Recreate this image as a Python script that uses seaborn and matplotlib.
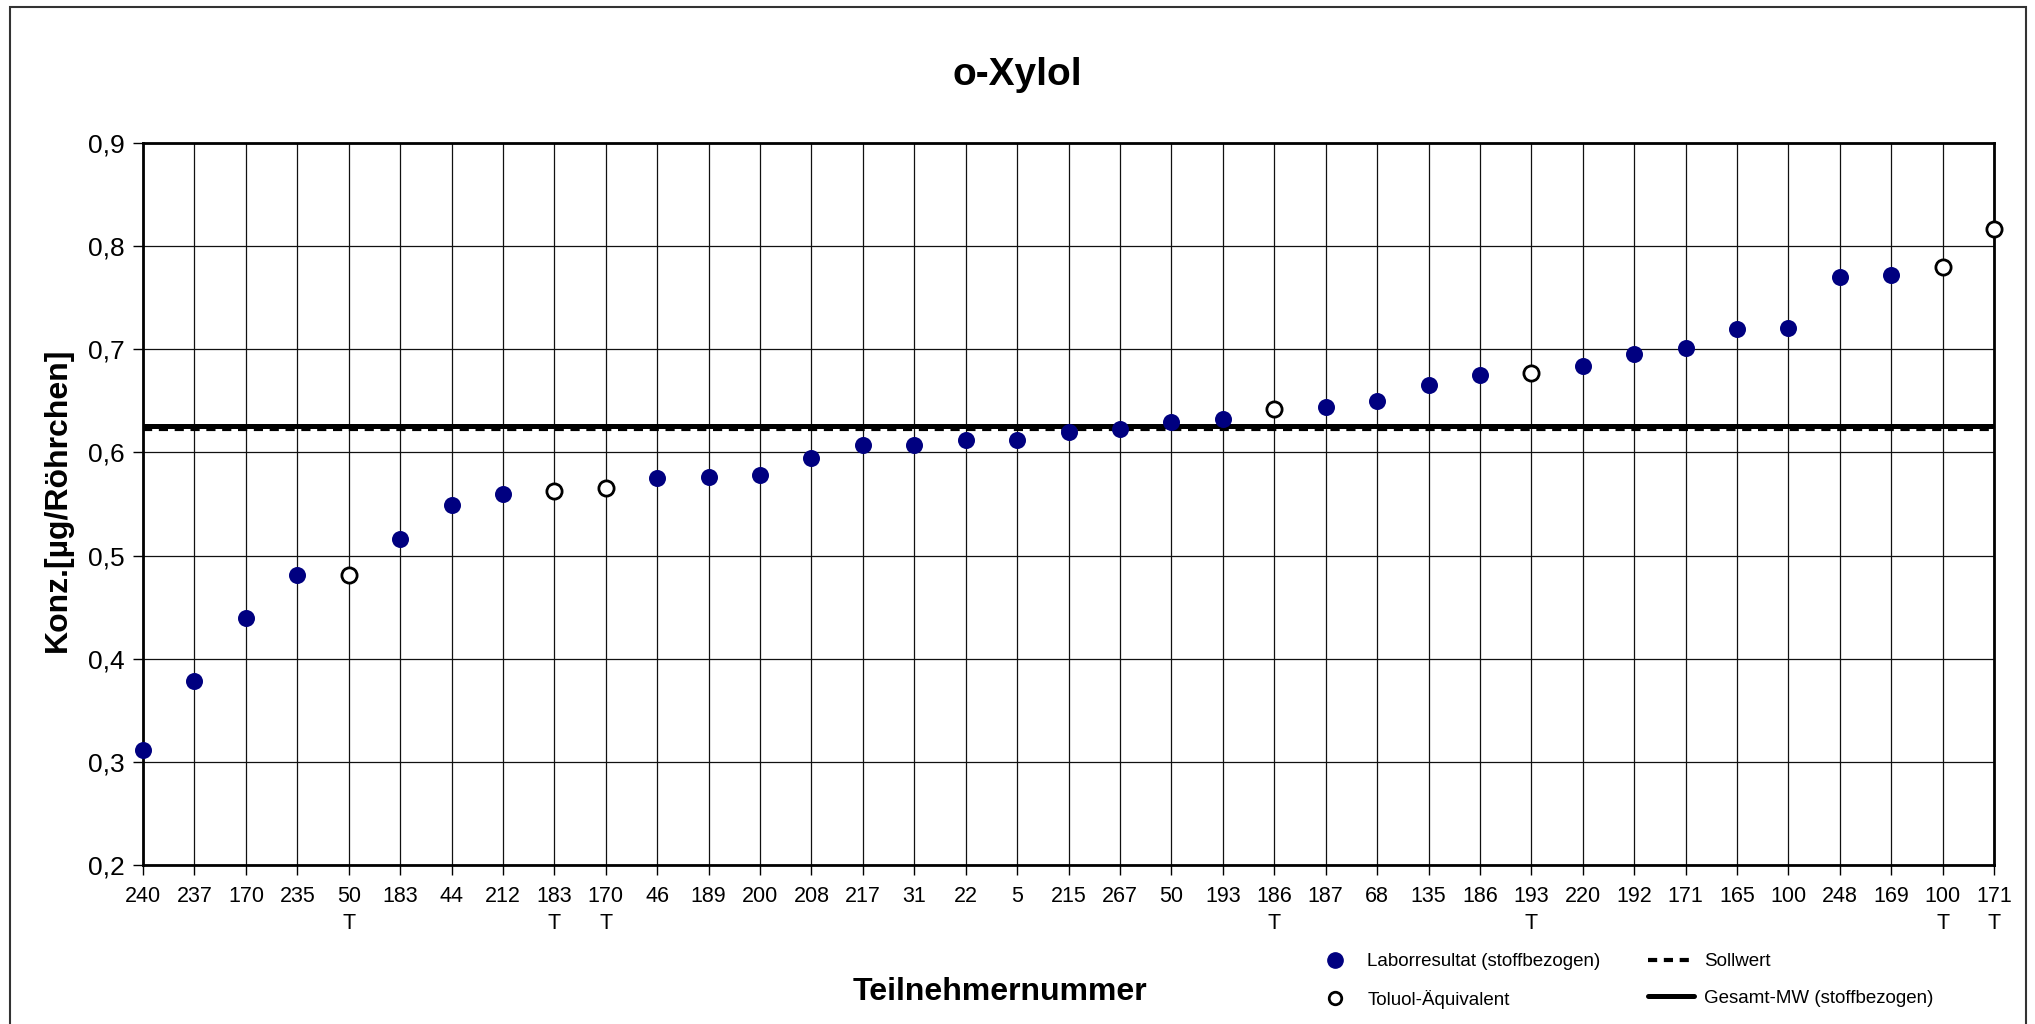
import pandas as pd
import seaborn as sns
import matplotlib.pyplot as plt
from matplotlib.lines import Line2D
from matplotlib.patches import Rectangle

# Teilnehmer (sortiert nach Ergebnis), T = Toluol-Aequivalent
teilnehmer = ["240", "237", "170", "235", "50", "183", "44", "212", "183", "170",
              "46", "189", "200", "208", "217", "31", "22", "5", "215", "267",
              "50", "193", "186", "187", "68", "135", "186", "193", "220", "192",
              "171", "165", "100", "248", "169", "100", "171"]
toluol = [False, False, False, False, True, False, False, False, True, True,
          False, False, False, False, False, False, False, False, False, False,
          False, False, True, False, False, False, False, True, False, False,
          False, False, False, False, False, True, True]
konz = [0.311, 0.378, 0.439, 0.481, 0.481, 0.516, 0.549, 0.560, 0.563, 0.565,
        0.575, 0.576, 0.578, 0.595, 0.607, 0.607, 0.612, 0.612, 0.620, 0.623,
        0.629, 0.632, 0.642, 0.644, 0.650, 0.665, 0.675, 0.677, 0.684, 0.695,
        0.701, 0.720, 0.721, 0.770, 0.772, 0.780, 0.817]
sollwert = 0.623
gesamt_mw = 0.626

df = pd.DataFrame({"pos": range(len(teilnehmer)), "konz": konz, "toluol": toluol})
tick_labels = [t + ("\nT" if f else "") for t, f in zip(teilnehmer, toluol)]

sns.set_style("white")
plt.rcParams["font.family"] = ["Liberation Sans", "DejaVu Sans"]
plt.rcParams.update({"text.color": "black", "axes.labelcolor": "black",
                     "xtick.color": "black", "ytick.color": "black"})

fig = plt.figure(figsize=(20.35, 10.24), dpi=100)
ax = fig.add_axes([0.0703, 0.1553, 0.9096, 0.7051])

ax.axhline(sollwert, color="black", lw=3, ls=(0, (2.2, 1.6)), zorder=2)
ax.axhline(gesamt_mw, color="black", lw=3.6, zorder=2)

sns.scatterplot(data=df[~df["toluol"]], x="pos", y="konz", ax=ax, color="#000080",
                edgecolor="#000080", s=150, linewidth=0, zorder=3, clip_on=False)
sns.scatterplot(data=df[df["toluol"]], x="pos", y="konz", ax=ax, color="white",
                edgecolor="black", s=120, linewidth=2, zorder=3, clip_on=False)

ax.set_xlim(0, len(teilnehmer) - 1)
ax.set_ylim(0.2, 0.9)
ax.set_xticks(range(len(teilnehmer)))
ax.set_xticklabels(tick_labels, fontsize=15.5, linespacing=1.4)
yt = [0.2, 0.3, 0.4, 0.5, 0.6, 0.7, 0.8, 0.9]
ax.set_yticks(yt)
ax.set_yticklabels([f"{v:.1f}".replace(".", ",") for v in yt], fontsize=19)
ax.tick_params(axis="both", direction="out", length=7, width=1, color="black",
               bottom=True, left=True)
ax.tick_params(axis="x", pad=8)
ax.tick_params(axis="y", pad=6)
ax.grid(True, color="#111111", lw=0.9)
ax.set_axisbelow(True)
for sp in ax.spines.values():
    sp.set_color("black")
    sp.set_linewidth(2)
ax.set_xlabel("")
ax.set_ylabel("")

fig.text(0.5, 0.927, "o-Xylol", fontsize=28, fontweight="bold", ha="center", va="center")
fig.text(0.4914, 0.031, "Teilnehmernummer", fontsize=23, fontweight="bold",
         ha="center", va="center")
fig.text(0.0285, 0.512, "Konz.[µg/Röhrchen]", fontsize=23, fontweight="bold",
         rotation=90, ha="center", va="center")

handles = [
    Line2D([], [], ls="none", marker="o", markersize=11, markerfacecolor="#000080",
           markeredgecolor="#000080"),
    Line2D([], [], ls="none", marker="o", markersize=9, markerfacecolor="white",
           markeredgecolor="black", markeredgewidth=2),
    Line2D([], [], color="black", lw=3, ls=(0, (2.2, 1.6))),
    Line2D([], [], color="black", lw=3.6),
]
labels = ["Laborresultat (stoffbezogen)", "Toluol-Äquivalent", "Sollwert",
          "Gesamt-MW (stoffbezogen)"]
fig.legend(handles, labels, ncol=2, loc="center left", bbox_to_anchor=(0.636, 0.042),
           frameon=False, fontsize=13.5, handlelength=2.5, handletextpad=0.5,
           columnspacing=2.5, labelspacing=1.05)

fig.patches.append(Rectangle((10 / 2035, -0.05), (2026 - 10) / 2035, 1.05 - 7 / 1024,
                             transform=fig.transFigure, fill=False,
                             edgecolor="#333333", lw=1.5))

fig.savefig("out.png", dpi=100)
